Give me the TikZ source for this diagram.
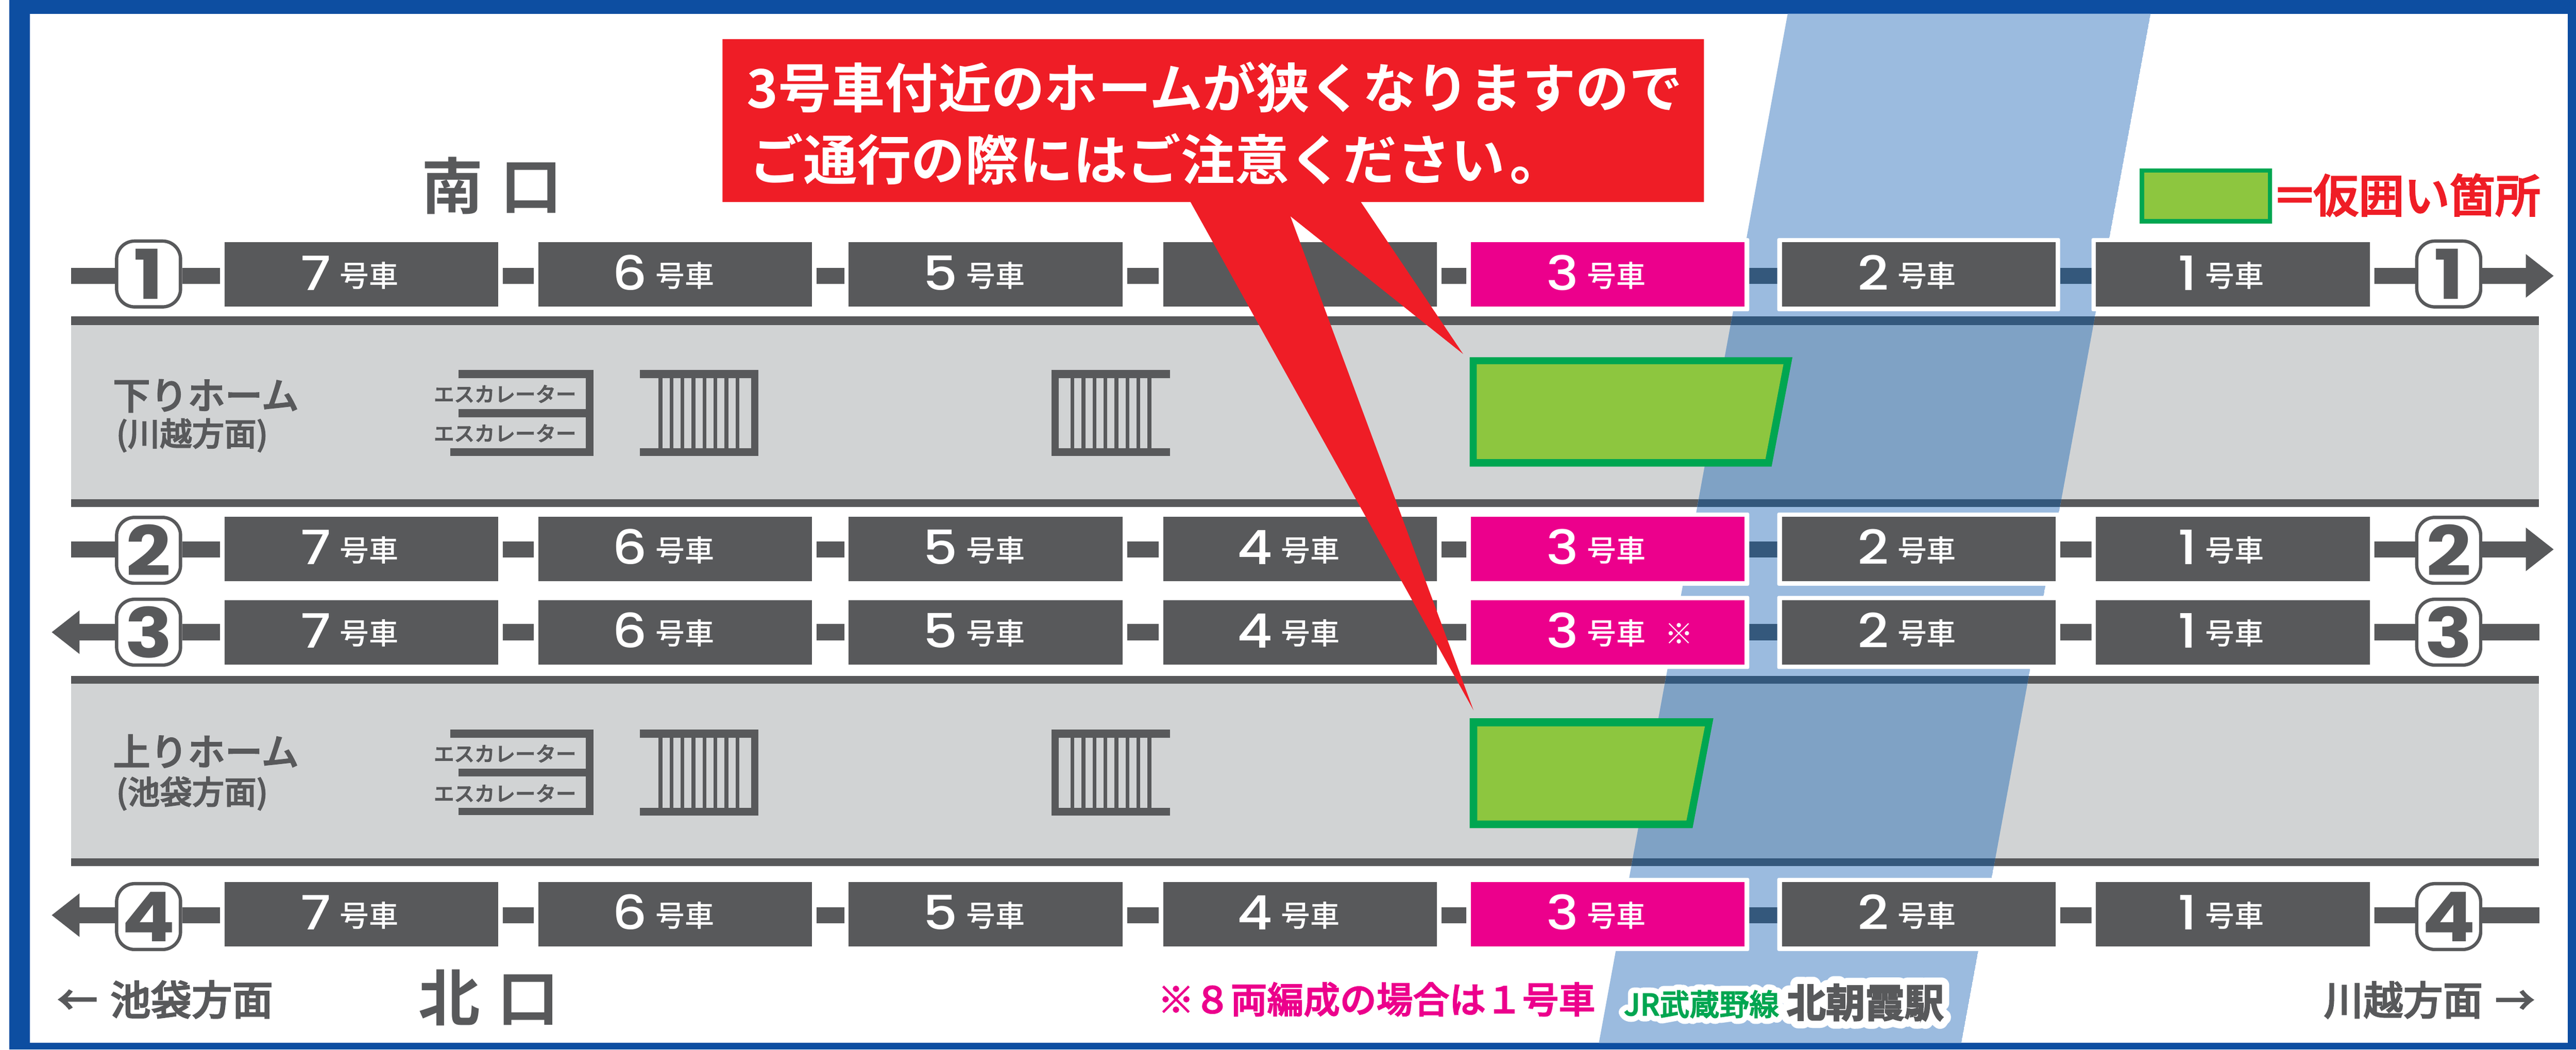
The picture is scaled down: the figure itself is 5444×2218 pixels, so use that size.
\documentclass[tikz,border=0pt]{standalone}
\usepackage{fontspec}
\usetikzlibrary{arrows.meta,calc}
\setmainfont[BoldFont={Noto Sans CJK JP Bold}]{Noto Sans CJK JP Medium}
\newfontfamily\numf[BoldFont={Poppins Bold},FakeStretch=1.15]{Poppins Medium}
\newfontfamily\jps[FakeBold=2.5]{Noto Sans CJK JP Medium}
\newfontfamily\jpbs[FakeBold=3]{Noto Sans CJK JP Bold}
\newfontfamily\jph[FakeBold=40]{Noto Sans CJK JP Medium}
\newfontfamily\jpbh[FakeBold=40]{Noto Sans CJK JP Bold}
\newcommand\fz[1]{\fontsize{\fpeval{#1*0.28453}}{\fpeval{#1*0.28453}}\selectfont}
\definecolor{dk}{HTML}{58595B}
\definecolor{plat}{HTML}{D1D3D4}
\definecolor{bdr}{HTML}{0D4EA1}
\definecolor{pnk}{HTML}{EC008C}
\definecolor{stp}{HTML}{9BBBDF}
\definecolor{stpg}{HTML}{7FA2C5}
\definecolor{stpd}{HTML}{34587C}
\definecolor{rd}{HTML}{EF1D26}
\definecolor{grn}{HTML}{00A651}
\definecolor{lim}{HTML}{8DC63F}
\newcommand\carl[2]{\raisebox{-0.07cm}{\numf\fz{100}#1}\hspace{0.18cm}{\fz{62}号車}\rlap{\hspace{0.4cm}\fz{60}#2}\kern0.5cm}
\newcommand\strippath{(3778,29) -- (4545,29) -- (4145,2204) -- (3379,2204) -- cycle}
\pgfdeclarelayer{back}\pgfdeclarelayer{mid}
\pgfsetlayers{back,mid,main}
\tikzset{
 car/.style={fill=#1,text=white,minimum width=5.78cm,minimum height=1.36cm,inner sep=0pt,text height=0.58cm,text depth=0.06cm},
 car/.default=dk,
 badge/.style={fill=white,draw=dk,line width=0.07cm,rounded corners=0.38cm,minimum width=1.35cm,minimum height=1.39cm,inner sep=0pt,text=dk,font=\numf\bfseries\fz{145}},
 conn/.style={draw=dk,line width=0.34cm},
 connd/.style={draw=stpd,line width=0.34cm},
 arr/.style={conn,-{Triangle[length=0.59cm,width=0.88cm]}},
 gap/.style={shorten <=0.09cm,shorten >=0.09cm},
 halo/.style={fill=white,rounded corners=0.03cm},
 lab/.style={inner sep=0pt,anchor=base west},
 dkt/.style={lab,text=dk},
 bar/.style={fill=dk},
}
\begin{document}
\begin{tikzpicture}[x=0.01cm,y=-0.01cm]
\useasboundingbox (0,0) rectangle (5444,2218);
% frame
\begin{pgfonlayer}{back}
\fill[white] (0,0) rectangle (5444,2218);
\fill[bdr] (20,0) rectangle (5444,2218);
\fill[white] (63,29) rectangle (5426,2204);
\fill[plat] (150,669) rectangle (5366,1071);
\fill[plat] (150,1429) rectangle (5366,1830);
\foreach \a/\b in {669/687,1055/1071,1429/1445,1814/1830} \fill[dk] (150,\a) rectangle (5366,\b);
\end{pgfonlayer}
% cars, badges
\foreach \r/\cy/\cn/\by in {1/580/583/579,2/1160/1161/1163,3/1336/1336/1336,4/1932/1934/1937}{
  \coordinate (r\r) at (0,\cn);
  \foreach \n/\x/\col in {7/474/dk,6/1137/dk,5/1793/dk,2/3765/dk,1/4429/dk}{
    \node[car=\col,anchor=west] (c\r\n) at (\x,\cy) {\carl{\n}{}};
  }
  \node[badge] (bL\r) at (314,\by) {\r};
  \node[badge] (bR\r) at (5175,\by) {\r};
}
\node[car=dk,anchor=west] (c14) at (2458,580) {};
\node[car=dk,anchor=west] (c24) at (2458,1160) {\carl{4}{}};
\node[car=dk,anchor=west] (c34) at (2458,1336) {\carl{4}{}};
\node[car=dk,anchor=west] (c44) at (2458,1932) {\carl{4}{}};
\node[car=pnk,anchor=west] (c13) at (3108,580) {\carl{3}{}};
\node[car=pnk,anchor=west] (c23) at (3108,1160) {\carl{3}{}};
\node[car=pnk,anchor=west] (c33) at (3108,1336) {\carl{3}{※}};
\node[car=pnk,anchor=west] (c43) at (3108,1932) {\carl{3}{}};
% free ends
\coordinate (tl1) at (150,583); \coordinate (tl2) at (150,1161);
\coordinate (al3) at (109,1336); \coordinate (al4) at (109,1934);
\coordinate (ar1) at (5397,583); \coordinate (ar2) at (5397,1161);
\coordinate (tr3) at (5367,1336); \coordinate (tr4) at (5367,1934);
\begin{pgfonlayer}{back}
\foreach \r in {1,2,3,4}{
  \foreach \a/\b in {7/6,6/5,5/4,4/3,3/2,2/1}
    \draw[conn,gap] (c\r\a.east |- r\r) -- (c\r\b.west |- r\r);
  \draw[conn] (bL\r.east |- r\r) -- ([xshift=-0.09cm]c\r7.west |- r\r);
  \draw[conn] ([xshift=0.08cm]c\r1.east |- r\r) -- (bR\r.west |- r\r);
}
\draw[conn] (tl1) -- (bL1.west |- r1);
\draw[conn] (tl2) -- (bL2.west |- r2);
\draw[arr] (bL3.west |- r3) -- (al3);
\draw[arr] (bL4.west |- r4) -- (al4);
\draw[arr] (bR1.east |- r1) -- (ar1);
\draw[arr] (bR2.east |- r2) -- (ar2);
\draw[conn] (bR3.east |- r3) -- (tr3);
\draw[conn] (bR4.east |- r4) -- (tr4);
\end{pgfonlayer}
% strip
\begin{pgfonlayer}{mid}
\begin{scope}
\clip \strippath;
\fill[stp] \strippath;
\fill[stpg] (150,669) rectangle (5366,1071);
\fill[stpg] (150,1429) rectangle (5366,1830);
\foreach \a/\b in {669/687,1055/1071,1429/1445,1814/1830} \fill[stpd] (150,\a) rectangle (5366,\b);
\foreach \r in {1,2,3,4}{
  \foreach \a/\b in {3/2,2/1}
    \draw[connd,gap] (c\r\a.east |- r\r) -- (c\r\b.west |- r\r);
}
\end{scope}
\foreach \r in {1,2,3,4}\foreach \n in {3,2,1}
  \fill[halo] ([shift={(-9,9)}]c\r\n.south west) rectangle ([shift={(9,-8)}]c\r\n.north east);
\end{pgfonlayer}
% stairs
\newcommand\stairs{
  \fill[bar] (1352,782) rectangle (1603,799);
  \fill[bar] (1352,947) rectangle (1603,964);
  \fill[bar] (1587,782) rectangle (1603,964);
  \foreach \i in {0,...,7} \fill[bar] ({1392+23.2*\i},790) rectangle ({1400+23.2*\i},955);
}
\stairs
\begin{scope}[shift={(3825,0)},xscale=-1]\stairs\end{scope}
\begin{scope}[shift={(0,760)}]\stairs\end{scope}
\begin{scope}[shift={(3825,760)},xscale=-1]\stairs\end{scope}
% escalators
\fill[bar] (969,782) rectangle (1254,799);
\fill[bar] (969,864) rectangle (1238,882);
\fill[bar] (952,947) rectangle (1254,964);
\fill[bar] (1238,782) rectangle (1254,964);
\fill[bar] (952,1542) rectangle (1254,1559);
\fill[bar] (969,1624) rectangle (1238,1641);
\fill[bar] (969,1707) rectangle (1254,1723);
\fill[bar] (1238,1542) rectangle (1254,1723);
\foreach \nm/\b in {e1/849,e2/932,e3/1609,e4/1693}
  \node[dkt,font=\jps\fz{43}] (\nm) at (916,\b) {エスカレーター};
% platform labels
\node[dkt,font=\jps\fz{79}] (pl1) at (238,865) {下りホーム};
\node[dkt,font=\jps\fz{68}] (pl1b) at (245,942) {(川越方面)};
\node[dkt,font=\jps\fz{79}] (pl2) at (238,1618) {上りホーム};
\node[dkt,font=\jps\fz{68}] (pl2b) at (245,1699) {(池袋方面)};
% green
\fill[grn] (3106,755) -- (3788,755) -- (3744,986) -- (3106,986) -- cycle;
\fill[lim] (3121,770) -- (3769,770) -- (3731,970) -- (3121,970) -- cycle;
\fill[grn] (3106,1518) -- (3621,1518) -- (3577,1750) -- (3106,1750) -- cycle;
\fill[lim] (3122,1535) -- (3603,1535) -- (3564,1734) -- (3122,1734) -- cycle;
\fill[grn] (4522,356) rectangle (4802,472);
\fill[lim] (4531,365) rectangle (4793,463);
\node[lab,text=rd,font=\jps\fz{96}] (leg) at (4801,449) {＝\hspace{-0.09cm}仮囲い箇所};
% callout
\fill[rd] (1527,83) -- (3601,83) -- (3601,427) -- (2876,427) -- (3092,748) -- (2727,457) -- (3114,1501) -- (2516,427) -- (1527,427) -- cycle;
\node[lab,text=white,font=\bfseries\fz{112.5}] (co1) at (1578,228) {3号車付近のホームが狭くなりますので};
\node[lab,text=white,font=\bfseries\fz{114}] (co2) at (1583,380) {ご通行の際にはご注意ください\hspace{0.1cm}。};
% exits
\node[dkt,font=\bfseries\fz{130}] (south) at (890,441) {南\hspace{0.37cm}口};
\node[dkt,font=\bfseries\fz{130}] (north) at (884,2157) {北\hspace{0.37cm}口};
% bottom
\node[dkt,font=\jps\fz{86}] (dirL) at (120,2145) {←\hspace{0.26cm}池袋方面};
\node[dkt,font=\jps\fz{84}] (dirR) at (4910,2145) {川越方面\hspace{0.26cm}→};
\node[lab,text=pnk,font=\jps\fz{77}] (note) at (2446,2141) {※８両編成の場合は１号車};
\begin{scope}[line join=round]
\node[lab,text=white,font=\jph\fz{63}] (jrh) at (3431,2146) {JR武蔵野線};
\node[lab,text=white,font=\jpbh\fz{83}] (sth) at (3775,2150) {北朝霞駅};
\end{scope}
\node[lab,text=grn,font=\jps\fz{63}] (jr) at (3431,2146) {JR武蔵野線};
\node[dkt,font=\jpbs\fz{83}] (st) at (3775,2150) {北朝霞駅};
\end{tikzpicture}
\end{document}
